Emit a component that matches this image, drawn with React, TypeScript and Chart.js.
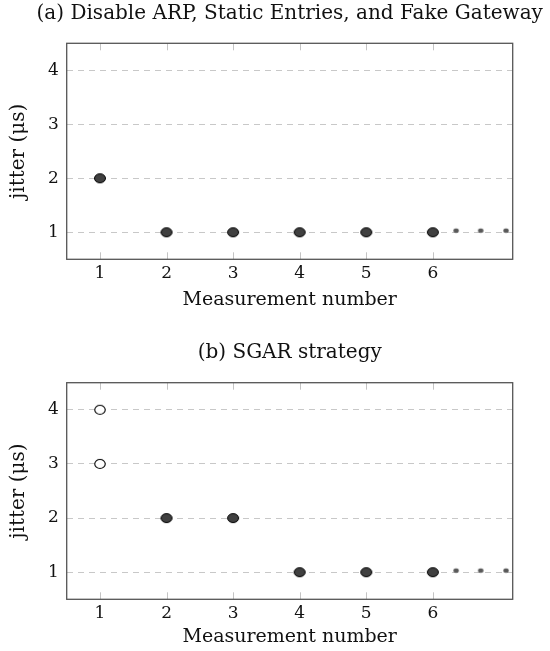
import React, { useEffect, useRef } from "react";
import { Chart, registerables } from "chart.js";

Chart.register(...registerables);

// ---- data ----
const xTicks = [1, 2, 3, 4, 5, 6];
const yTicks = [1, 2, 3, 4];
const titleA = "(a) Disable ARP, Static Entries, and Fake Gateway";
const titleB = "(b) SGAR strategy";
const xLabel = "Measurement number";
const yLabel = "jitter (μs)";

const aFilledX = [1, 2, 3, 4, 5, 6];
const aFilledY = [2, 1, 1, 1, 1, 1];

const bOpenX = [1, 1];
const bOpenY = [4, 3];
const bFilledX = [2, 3, 4, 5, 6];
const bFilledY = [2, 2, 1, 1, 1];

const dotsX = [6.35, 6.72, 7.1];
const dotsY = [1.03, 1.03, 1.03];

const FONT = "'DejaVu Serif', 'Liberation Serif', serif";

function marker(w: number, h: number, fill: string, stroke: string | null, lw: number) {
  const c = document.createElement("canvas");
  c.width = 16;
  c.height = 14;
  const ctx = c.getContext("2d")!;
  ctx.beginPath();
  ctx.ellipse(8, 7, w / 2, h / 2, 0, 0, Math.PI * 2);
  ctx.fillStyle = fill;
  ctx.fill();
  if (stroke) {
    ctx.lineWidth = lw;
    ctx.strokeStyle = stroke;
    ctx.stroke();
  }
  return c;
}

const framePlugin = {
  id: "frame",
  beforeDatasetsDraw(chart: any) {
    const { ctx, chartArea } = chart;
    const xs = chart.scales.x;
    ctx.save();
    ctx.strokeStyle = "#c4c4c4";
    ctx.lineWidth = 1;
    xTicks.forEach((v) => {
      const px = Math.round(xs.getPixelForValue(v)) + 0.5;
      ctx.beginPath();
      ctx.moveTo(px, chartArea.top);
      ctx.lineTo(px, chartArea.top + 7);
      ctx.moveTo(px, chartArea.bottom);
      ctx.lineTo(px, chartArea.bottom - 7);
      ctx.stroke();
    });
    ctx.strokeStyle = "#555";
    ctx.lineWidth = 1.3;
    ctx.strokeRect(
      chartArea.left,
      chartArea.top,
      chartArea.right - chartArea.left,
      chartArea.bottom - chartArea.top
    );
    ctx.restore();
  },
  afterDraw(chart: any) {
    const { ctx, chartArea } = chart;
    const t = chart.options.plugins.frame?.title;
    if (!t) return;
    ctx.save();
    ctx.fillStyle = "#111";
    ctx.font = `normal 20px ${FONT}`;
    ctx.textAlign = "center";
    ctx.textBaseline = "middle";
    ctx.fillText(t, (chartArea.left + chartArea.right) / 2, 14);
    ctx.restore();
  },
};

type Layout = {
  height: number;
  boxTop: number;
  boxBottom: number;
  xTitleCenter: number;
};

function makeConfig(title: string, datasets: any[], L: Layout) {
  const lhX = 19 * 1.2;
  const xScaleHeight = L.height - L.boxBottom;
  const xTitlePadBottom = L.height - L.xTitleCenter - lhX / 2;
  const lhY = 20 * 1.2;
  return {
    type: "scatter",
    data: { datasets },
    options: {
      animation: false,
      responsive: false,
      maintainAspectRatio: false,
      layout: { padding: { left: 0, right: 37.3, top: L.boxTop, bottom: 0 } },
      plugins: {
        legend: { display: false },
        tooltip: { enabled: false },
        title: { display: false },
        frame: { title },
      },
      scales: {
        x: {
          type: "linear",
          min: 0.5,
          max: 7.2,
          afterBuildTicks: (s: any) => {
            s.ticks = xTicks.map((v) => ({ value: v }));
          },
          afterFit: (s: any) => {
            s.height = xScaleHeight;
          },
          grid: { display: false, drawTicks: false },
          border: { display: false },
          ticks: {
            color: "#111",
            padding: 4,
            font: { family: FONT, size: 17 },
            callback: (v: any) => String(v),
            maxRotation: 0,
            autoSkip: false,
          },
          title: {
            display: true,
            text: xLabel,
            color: "#111",
            font: { family: FONT, size: 19, lineHeight: 1.2 },
            padding: { top: 0, bottom: xTitlePadBottom },
          },
        },
        y: {
          type: "linear",
          min: 0.5,
          max: 4.5,
          afterBuildTicks: (s: any) => {
            s.ticks = yTicks.map((v) => ({ value: v }));
          },
          afterFit: (s: any) => {
            s.width = 66.7;
          },
          grid: { display: true, drawTicks: false, color: "#c8c8c8", lineWidth: 1 },
          border: { display: false, dash: [6, 5] },
          ticks: {
            color: "#111",
            padding: 8,
            font: { family: FONT, size: 17 },
            callback: (v: any) => String(v),
          },
          title: {
            display: true,
            text: yLabel,
            color: "#111",
            font: { family: FONT, size: 20, lineHeight: 1.2 },
            padding: { top: 19 - lhY / 2, bottom: 0 },
          },
        },
      },
    },
    plugins: [framePlugin],
  };
}

function pts(xs: number[], ys: number[]) {
  return xs.map((x, i) => ({ x, y: ys[i] }));
}

function ChartBox({ config, height, top }: { config: () => any; height: number; top: number }) {
  const ref = useRef<HTMLCanvasElement | null>(null);
  useEffect(() => {
    const chart = new Chart(ref.current!, config());
    return () => chart.destroy();
  }, []);
  return (
    <canvas
      ref={ref}
      width={550}
      height={height}
      style={{ position: "absolute", left: 0, top, width: 550, height, display: "block" }}
    />
  );
}

export default function App() {
  const filled = () => marker(11, 9, "#404040", "#000", 1);
  const open = () => marker(10.5, 9, "#fff", "#000", 1.1);
  const small = () => marker(5.5, 4.5, "#595959", null, 0);

  const cfgA = () =>
    makeConfig(
      titleA,
      [
        { data: pts(aFilledX, aFilledY), pointStyle: filled(), showLine: false },
        { data: pts(dotsX, dotsY), pointStyle: small(), showLine: false },
      ],
      { height: 339, boxTop: 43.3, boxBottom: 259.3, xTitleCenter: 300 }
    );
  const cfgB = () =>
    makeConfig(
      titleB,
      [
        { data: pts(bOpenX, bOpenY), pointStyle: open(), showLine: false },
        { data: pts(bFilledX, bFilledY), pointStyle: filled(), showLine: false },
        { data: pts(dotsX, dotsY), pointStyle: small(), showLine: false },
      ],
      { height: 312, boxTop: 43.7, boxBottom: 260.3, xTitleCenter: 298 }
    );

  return (
    <div style={{ position: "absolute", left: 0, top: 0, width: 550, height: 651, overflow: "hidden", background: "#fff" }}>
      <ChartBox config={cfgA} height={339} top={0} />
      <ChartBox config={cfgB} height={312} top={339} />
    </div>
  );
}
